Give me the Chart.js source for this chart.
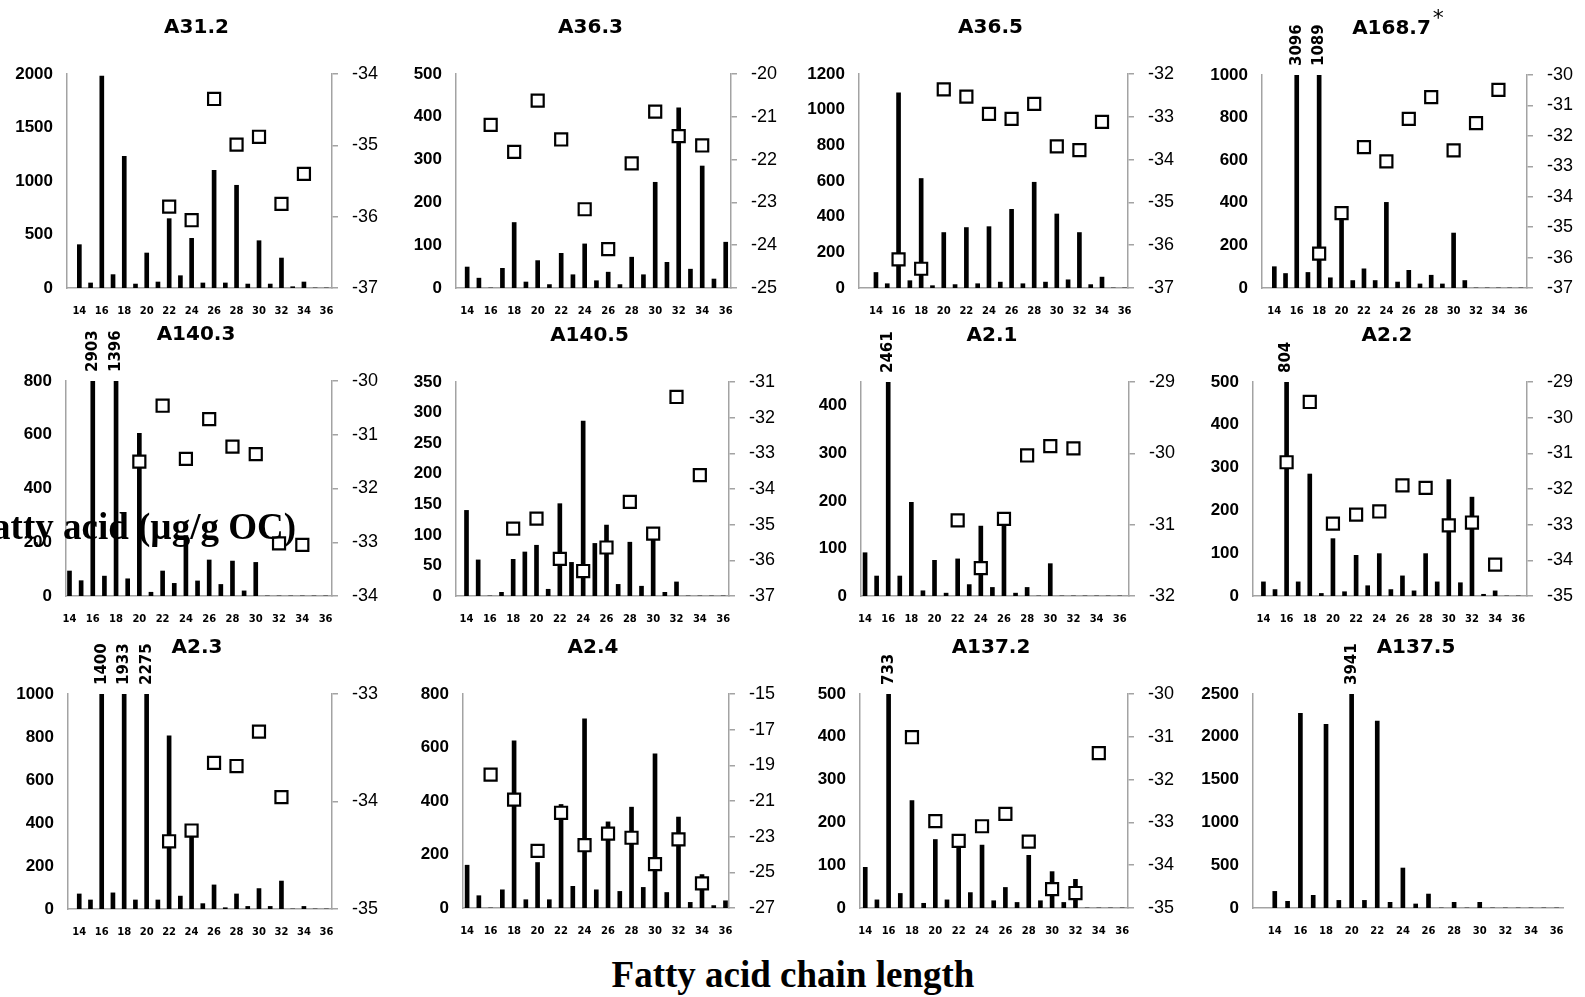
<!DOCTYPE html>
<html>
<head>
<meta charset="utf-8">
<script src="https://cdn.jsdelivr.net/npm/chart.js@4.4.1/dist/chart.umd.min.js"></script>
<style>
    body { margin: 0; background: #fff; width: 1585px; height: 997px; overflow: hidden; position: relative; }
    canvas { position: absolute; }
    .big-label {
        position: absolute;
        font-family: 'Liberation Serif', 'Times New Roman', serif;
        font-weight: bold;
        font-size: 37px;
        line-height: 37px;
        white-space: nowrap;
        color: #000;
        z-index: 5;
    }
    #y-label { left: 296px; top: 508px; transform: translateX(-100%); }
    #x-label { left: 793px; top: 956px; transform: translateX(-50%); }
</style>
</head>
<body>
<div id="panels"></div>
<div class="big-label" id="y-label">Fatty acid (µg/g OC)</div>
<div class="big-label" id="x-label">Fatty acid chain length</div>

<script>
// Longitud de cadena (14 a 36) y etiquetas del eje X
const CHAIN = [14, 15, 16, 17, 18, 19, 20, 21, 22, 23, 24, 25, 26, 27, 28, 29, 30, 31, 32, 33, 34, 35, 36];
const X_TICKS = [14, 16, 18, 20, 22, 24, 26, 28, 30, 32, 34, 36];

// Concentración (µg/g OC) y d13C por muestra, alineados con CHAIN
const A31_2_FA   = [405, 47, 1980, 125, 1230, 37, 327, 56, 648, 115, 464, 47, 1100, 47, 960, 37, 442, 37, 280, 12, 56, 0, 0];
const A31_2_D13C = [null, null, null, null, null, null, null, null, -35.86, null, -36.05, null, -34.35, null, -34.99, null, -34.88, null, -35.82, null, -35.40, null, null];

const A36_3_FA   = [49, 23, 0, 46, 153, 14, 64, 8, 81, 31, 103, 17, 37, 8, 72, 31, 247, 60, 421, 44, 285, 21, 107];
const A36_3_D13C = [null, null, -21.19, null, -21.82, null, -20.62, null, -21.53, null, -23.16, null, -24.09, null, -22.09, null, -20.88, null, -21.45, null, -21.67, null, null];

const A36_5_FA   = [87, 24, 1095, 41, 614, 13, 311, 19, 339, 24, 344, 33, 441, 24, 593, 33, 415, 46, 311, 19, 61, 0, 0];
const A36_5_D13C = [null, null, -36.33, null, -36.55, null, -32.36, null, -32.53, null, -32.93, null, -33.05, null, -32.70, null, -33.69, null, -33.78, null, -33.12, null, null];

const A168_7_FA   = [100, 68, 3096, 73, 1089, 48, 350, 35, 90, 35, 402, 28, 83, 19, 60, 19, 258, 35, 0, 0, 0, 0, 0];
const A168_7_D13C = [null, null, null, null, -35.87, null, -34.54, null, -32.37, null, -32.84, null, -31.44, null, -30.73, null, -32.48, null, -31.58, null, -30.49, null, null];

const A140_3_FA   = [93, 57, 2903, 74, 1396, 64, 605, 14, 93, 47, 225, 56, 134, 43, 130, 19, 125, 0, 0, 0, 0, 0, 0];
const A140_3_D13C = [null, null, null, null, null, null, -31.50, null, -30.46, null, -31.45, null, -30.71, null, -31.22, null, -31.36, null, -33.02, null, -33.05, null, null];

const A140_5_FA   = [140, 59, 0, 6, 60, 72, 83, 11, 151, 55, 286, 86, 116, 19, 88, 16, 100, 6, 23, 0, 0, 0, 0];
const A140_5_D13C = [null, null, null, null, -35.11, null, -34.83, null, -35.96, null, -36.30, null, -35.64, null, -34.36, null, -35.25, null, -31.42, null, -33.61, null, null];

const A2_1_FA   = [91, 42, 2461, 42, 197, 11, 75, 6, 78, 24, 147, 18, 155, 6, 18, 0, 68, 0, 0, 0, 0, 0, 0];
const A2_1_D13C = [null, null, null, null, null, null, null, null, -30.94, null, -31.61, null, -30.92, null, -30.03, null, -29.90, null, -29.93, null, null, null, null];

const A2_2_FA   = [33, 15, 804, 33, 285, 6, 134, 10, 95, 24, 99, 15, 47, 12, 99, 33, 272, 31, 231, 4, 12, 0, 0];
const A2_2_D13C = [null, null, -31.25, null, -29.56, null, -32.97, null, -32.72, null, -32.63, null, -31.90, null, -31.97, null, -33.02, null, -32.94, null, -34.12, null, null];

const A2_3_FA   = [70, 42, 1400, 75, 1933, 42, 2275, 42, 805, 60, 370, 25, 112, 6, 70, 12, 95, 12, 130, 0, 12, 0, 0];
const A2_3_D13C = [null, null, null, null, null, null, null, null, -34.37, null, -34.27, null, -33.64, null, -33.67, null, -33.35, null, -33.96, null, null, null, null];

const A2_4_FA   = [160, 46, 0, 68, 625, 31, 170, 31, 387, 81, 707, 68, 322, 62, 377, 77, 576, 58, 340, 21, 125, 9, 27];
const A2_4_D13C = [null, null, -19.52, null, -20.92, null, -23.80, null, -21.66, null, -23.48, null, -22.83, null, -23.06, null, -24.54, null, -23.15, null, -25.62, null, null];

const A137_2_FA   = [95, 19, 733, 34, 251, 11, 160, 19, 150, 36, 147, 17, 48, 13, 123, 17, 85, 13, 67, 0, 0, 0, 0];
const A137_2_D13C = [null, null, null, null, -31.01, null, -32.97, null, -33.43, null, -33.09, null, -32.80, null, -33.45, null, -34.56, null, -34.65, null, -31.38, null, null];

const A137_5_FA   = [194, 78, 2275, 148, 2146, 89, 3941, 89, 2185, 66, 467, 47, 163, 0, 66, 0, 66, 0, 0, 0, 0, 0, 0];

// Configuración de cada panel: escalas y caja del área de trazado [izq, der, arriba, abajo]
const PANELS = [
    { title: 'A31.2',  fa: A31_2_FA,  d13c: A31_2_D13C,  yMax: 2000, yStep: 500, rMin: -37, rMax: -34, rStep: 1, xMin: 12.9,  xMax: 36.5,  box: [67, 332, 74, 288] },
    { title: 'A36.3',  fa: A36_3_FA,  d13c: A36_3_D13C,  yMax: 500,  yStep: 100, rMin: -25, rMax: -20, rStep: 1, xMin: 13.05, xMax: 36.45, box: [456, 731, 74, 288] },
    { title: 'A36.5',  fa: A36_5_FA,  d13c: A36_5_D13C,  yMax: 1200, yStep: 200, rMin: -37, rMax: -32, rStep: 1, xMin: 12.5,  xMax: 36.3,  box: [859, 1128, 74, 288] },
    { title: 'A168.7', note: '*', fa: A168_7_FA, d13c: A168_7_D13C, yMax: 1000, yStep: 200, rMin: -37, rMax: -30, rStep: 1, xMin: 12.9, xMax: 36.55, box: [1262, 1527, 75, 288] },
    { title: 'A140.3', fa: A140_3_FA, d13c: A140_3_D13C, yMax: 800,  yStep: 200, rMin: -34, rMax: -30, rStep: 1, xMin: 13.7,  xMax: 36.55, box: [66, 332, 381, 596] },
    { title: 'A140.5', fa: A140_5_FA, d13c: A140_5_D13C, yMax: 350,  yStep: 50,  rMin: -37, rMax: -31, rStep: 1, xMin: 13.1,  xMax: 36.5,  box: [456, 729, 382, 596] },
    { title: 'A2.1',   fa: A2_1_FA,   d13c: A2_1_D13C,   yMax: 450,  yStep: 100, rMin: -32, rMax: -29, rStep: 1, xMin: 13.65, xMax: 36.8,  box: [861, 1129, 382, 596] },
    { title: 'A2.2',   fa: A2_2_FA,   d13c: A2_2_D13C,   yMax: 500,  yStep: 100, rMin: -35, rMax: -29, rStep: 1, xMin: 13.1,  xMax: 36.75, box: [1253, 1527, 382, 596] },
    { title: 'A2.3',   fa: A2_3_FA,   d13c: A2_3_D13C,   yMax: 1000, yStep: 200, rMin: -35, rMax: -33, rStep: 1, xMin: 13.0,  xMax: 36.5,  box: [68, 332, 694, 909] },
    { title: 'A2.4',   fa: A2_4_FA,   d13c: A2_4_D13C,   yMax: 800,  yStep: 200, rMin: -27, rMax: -15, rStep: 2, xMin: 13.65, xMax: 36.3,  box: [463, 729, 694, 908] },
    { title: 'A137.2', fa: A137_2_FA, d13c: A137_2_D13C, yMax: 500,  yStep: 100, rMin: -35, rMax: -30, rStep: 1, xMin: 13.55, xMax: 36.5,  box: [860, 1128, 694, 908] },
    { title: 'A137.5', fa: A137_5_FA, d13c: null,        yMax: 2500, yStep: 500, xMin: 12.3, xMax: 36.5, titleDx: 8, box: [1253, 1563, 694, 908] }
];

const AXIS_GRAY = '#a3a3a3';
const PAD_L = 70, PAD_R = 60, PAD_T = 70, PAD_B = 40;

// Títulos, asterisco y valores de barras recortadas
const panelText = {
    id: 'panelText',
    afterDatasetsDraw(chart, args, opts) {
        const { ctx, chartArea, scales } = chart;
        ctx.save();
        ctx.fillStyle = '#000';

        ctx.font = 'bold 20px "DejaVu Sans"';
        ctx.textAlign = 'center';
        ctx.textBaseline = 'middle';
        const cx = (chartArea.left + chartArea.right) / 2 + (opts.titleDx ?? -3);
        const ty = chartArea.top - 46;
        ctx.fillText(opts.title, cx, ty);

        if (opts.note) {
            const w = ctx.measureText(opts.title).width;
            ctx.font = '22px "DejaVu Sans"';
            ctx.textAlign = 'left';
            ctx.fillText(opts.note, cx + w / 2 + 2, ty - 10);
        }

        ctx.font = 'bold 15px "DejaVu Sans"';
        opts.fa.forEach((v, i) => {
            if (v <= opts.yMax) return;
            const x = scales.x.getPixelForValue(CHAIN[i]);
            ctx.save();
            ctx.translate(x, chartArea.top - 9);
            ctx.rotate(-Math.PI / 2);
            ctx.textAlign = 'left';
            ctx.textBaseline = 'middle';
            ctx.fillText(String(v), 0, 0);
            ctx.restore();
        });
        ctx.restore();
    }
};

function buildPanel(p) {
    const [L, R, T, B] = p.box;
    const canvas = document.createElement('canvas');
    canvas.width = R - L + PAD_L + PAD_R;
    canvas.height = B - T + PAD_T + PAD_B;
    canvas.style.left = (L - PAD_L) + 'px';
    canvas.style.top = (T - PAD_T) + 'px';
    document.getElementById('panels').appendChild(canvas);

    const datasets = [{
        type: 'bar',
        data: CHAIN.map((c, i) => ({ x: c, y: p.fa[i] })),
        backgroundColor: '#000',
        borderWidth: 0,
        barThickness: 4,
        yAxisID: 'y',
        order: 2
    }];

    if (p.d13c) {
        datasets.push({
            type: 'line',
            data: CHAIN.map((c, i) => ({ x: c, y: p.d13c[i] })).filter(d => d.y !== null),
            showLine: false,
            pointStyle: 'rect',
            pointRadius: 8.5,
            pointBackgroundColor: '#fff',
            pointBorderColor: '#000',
            pointBorderWidth: 2.2,
            yAxisID: 'y1',
            order: 1
        });
    }

    new Chart(canvas, {
        type: 'bar',
        data: { datasets },
        plugins: [panelText],
        options: {
            responsive: false,
            animation: false,
            devicePixelRatio: 1,
            events: [],
            // el eje derecho (visible o no) siempre ocupa PAD_R
            layout: { padding: { top: PAD_T, right: 0, left: 0, bottom: 0 } },
            plugins: {
                legend: { display: false },
                tooltip: { enabled: false },
                panelText: { title: p.title, note: p.note, titleDx: p.titleDx, fa: p.fa, yMax: p.yMax }
            },
            scales: {
                x: {
                    type: 'linear',
                    offset: false,
                    min: p.xMin,
                    max: p.xMax,
                    afterBuildTicks: s => { s.ticks = X_TICKS.map(v => ({ value: v })); },
                    afterFit: s => { s.height = PAD_B; },
                    grid: { display: false, drawTicks: false },
                    border: { display: true, color: AXIS_GRAY, width: 1.5 },
                    ticks: {
                        autoSkip: false,
                        maxRotation: 0,
                        padding: 17,
                        color: '#000',
                        font: { family: 'DejaVu Sans', weight: 'bold', size: 10 },
                        callback: v => String(v)
                    }
                },
                y: {
                    position: 'left',
                    min: 0,
                    max: p.yMax,
                    afterFit: s => { s.width = PAD_L; },
                    grid: { display: false, drawTicks: false },
                    border: { display: true, color: AXIS_GRAY, width: 1.5 },
                    ticks: {
                        stepSize: p.yStep,
                        includeBounds: false,
                        padding: 14,
                        color: '#000',
                        font: { family: 'Liberation Sans', weight: 'bold', size: 17 },
                        callback: v => String(v)
                    }
                },
                y1: {
                    display: !!p.d13c,
                    position: 'right',
                    min: p.rMin ?? 0,
                    max: p.rMax ?? 1,
                    afterFit: s => { s.width = PAD_R; },
                    grid: { display: true, drawOnChartArea: false, drawTicks: true, tickLength: 6, color: AXIS_GRAY, lineWidth: 1.5 },
                    border: { display: true, color: AXIS_GRAY, width: 1.5 },
                    ticks: {
                        stepSize: p.rStep ?? 1,
                        padding: 14,
                        color: '#000',
                        font: { family: 'Liberation Sans', size: 18 },
                        callback: v => String(v)
                    }
                }
            }
        }
    });
}

document.addEventListener('DOMContentLoaded', () => {
    PANELS.forEach(buildPanel);
});
</script>
</body>
</html>
